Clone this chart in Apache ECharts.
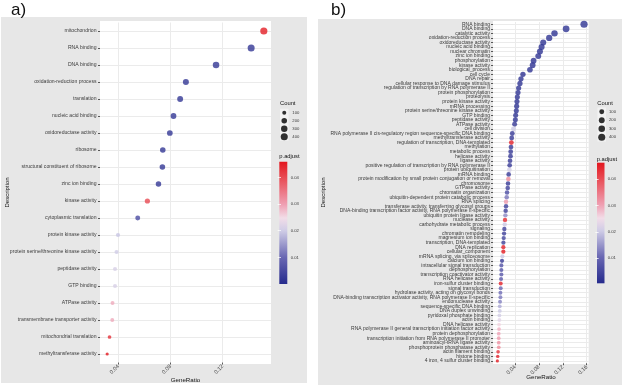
<!DOCTYPE html>
<html><head><meta charset="utf-8">
<script src="https://cdn.jsdelivr.net/npm/echarts@6/dist/echarts.min.js"></script>
<style>html,body{margin:0;padding:0;background:#fff}#c{width:624px;height:386px}</style>
</head><body><div id="c"></div>
<script>
// ---------- Panel a data ----------
const catsA = ['mitochondrion','RNA binding','DNA binding','oxidation-reduction process','translation','nucleic acid binding','oxidoreductase activity','ribosome','structural constituent of ribosome','zinc ion binding','kinase activity','cytoplasmic translation','protein kinase activity','protein serine/threonine kinase activity','peptidase activity','GTP binding','ATPase activity','transmembrane transporter activity','mitochondrial translation','methyltransferase activity'];
const ratioA = [0.1515,0.1418,0.1149,0.0918,0.0874,0.0823,0.0795,0.0741,0.0738,0.0708,0.0623,0.0549,0.0398,0.0387,0.0375,0.0375,0.0356,0.0354,0.0333,0.0315];
const countA = [416,390,316,252,240,226,218,204,203,195,171,151,109,106,103,103,98,97,92,87];
const padjA = [0.045,0.002,0.002,0.002,0.002,0.002,0.002,0.002,0.002,0.002,0.04,0.0055,0.0193,0.02,0.021,0.021,0.029,0.029,0.043,0.0459];

// ---------- Panel b data ----------
const catsB = ['RNA binding','DNA binding','catalytic activity','oxidation-reduction process','oxidoreductase activity','nucleic acid binding','nuclear chromatin','zinc ion binding','phosphorylation','kinase activity','biological_process','cell cycle','DNA repair','cellular response to DNA damage stimulus','regulation of transcription by RNA polymerase II','protein phosphorylation','proteolysis','protein kinase activity','mRNA processing','protein serine/threonine kinase activity','GTP binding','peptidase activity','ATPase activity','cell division','RNA polymerase II cis-regulatory region sequence-specific DNA binding','methyltransferase activity','regulation of transcription, DNA-templated','methylation','metabolic process','helicase activity','ligase activity','positive regulation of transcription by RNA polymerase II','protein ubiquitination','mRNA binding','protein modification by small protein conjugation or removal','chromosome','GTPase activity','chromatin organization','ubiquitin-dependent protein catabolic process','RNA splicing','transferase activity, transferring glycosyl groups','DNA-binding transcription factor activity, RNA polymerase II-specific','ubiquitin protein ligase activity','nuclease activity','carbohydrate metabolic process','signaling','chromatin remodeling','magnesium ion binding','transcription, DNA-templated','DNA replication','cellular_component','mRNA splicing, via spliceosome','calcium ion binding','intracellular signal transduction','dephosphorylation','transcription coactivator activity','RNA helicase activity','iron-sulfur cluster binding','signal transduction','hydrolase activity, acting on glycosyl bonds','DNA-binding transcription activator activity, RNA polymerase II-specific','endonuclease activity','sequence-specific DNA binding','DNA duplex unwinding','pyridoxal phosphate binding','actin binding','DNA helicase activity','RNA polymerase II general transcription initiation factor activity','protein dephosphorylation','transcription initiation from RNA polymerase II promoter','aminoacyl-tRNA ligase activity','phosphoprotein phosphatase activity','actin filament binding','histone binding','4 iron, 4 sulfur cluster binding'];
const ratioB = [0.1555,0.1255,0.1061,0.0972,0.0872,0.0845,0.0817,0.0789,0.0711,0.0695,0.065,0.0533,0.05,0.0483,0.0461,0.045,0.0439,0.0433,0.0428,0.0422,0.0411,0.0406,0.0394,0.0375,0.0355,0.0345,0.0339,0.0333,0.0328,0.0325,0.0317,0.0311,0.0306,0.0294,0.0289,0.0283,0.0278,0.0267,0.0261,0.025,0.025,0.0244,0.0239,0.0233,0.0228,0.0222,0.0217,0.0211,0.0206,0.0205,0.0205,0.0189,0.0183,0.0172,0.0172,0.0172,0.0167,0.0161,0.0161,0.0156,0.0156,0.015,0.0145,0.0145,0.0139,0.0139,0.0133,0.0133,0.0128,0.0128,0.0128,0.0128,0.0117,0.0111,0.0105];
const countB = [420,339,286,262,235,228,221,213,192,188,176,144,135,130,124,122,119,117,116,114,111,110,106,101,96,93,92,90,89,88,86,84,83,79,78,76,75,72,70,68,67,66,64,63,61,60,59,57,56,55,55,51,50,47,46,46,45,44,43,42,42,41,39,39,38,37,36,36,35,35,35,34,32,30,28];
const padjB = [0.002,0.002,0.002,0.002,0.002,0.002,0.002,0.002,0.002,0.002,0.002,0.0015,0.002,0.002,0.002,0.002,0.002,0.002,0.002,0.002,0.002,0.002,0.003,0.02,0.003,0.003,0.045,0.003,0.003,0.003,0.003,0.003,0.021,0.003,0.033,0.003,0.004,0.006,0.012,0.031,0.004,0.004,0.014,0.044,0.02,0.004,0.004,0.005,0.004,0.045,0.046,0.02,0.003,0.007,0.007,0.008,0.008,0.045,0.01,0.011,0.012,0.013,0.017,0.02,0.021,0.023,0.026,0.029,0.03,0.031,0.032,0.033,0.043,0.045,0.046];

// ---------- scales / legends ----------
const xRangeA = [0.026, 0.157];
const xRangeB = [0.0032, 0.1633];
const xTicksA = [0.04, 0.08, 0.12];
const xTicksB = [0.04, 0.08, 0.12, 0.16];
const padjRangeA = [0, 0.0459];
const padjRangeB = [0.0005, 0.0463];
const padjTicks = [0.01, 0.02, 0.03, 0.04];
const sizeBreaks = [100, 200, 300, 400];

// ---------- style mappings ----------
const FONT = 'Liberation Sans, Arial, sans-serif';
const LBL = '#3a3a3a';
const colorStops = [[0,'#262b8d'],[0.22,'#6a68b3'],[0.435,'#cfcce6'],[0.54,'#f2dde8'],[0.65,'#efa0b3'],[0.87,'#e84b53'],[1,'#e3161e']];
function hex2rgb(h){return [1,3,5].map(i=>parseInt(h.slice(i,i+2),16));}
function colorAt(t){
  t = Math.min(1, Math.max(0, t));
  for (let i = 1; i < colorStops.length; i++) {
    if (t <= colorStops[i][0]) {
      const [t0,c0] = colorStops[i-1], [t1,c1] = colorStops[i];
      const f = (t - t0) / (t1 - t0);
      const a = hex2rgb(c0), b = hex2rgb(c1);
      return 'rgb(' + a.map((v,k)=>Math.round(v + (b[k]-v)*f)).join(',') + ')';
    }
  }
  return colorStops[colorStops.length-1][1];
}
function gradient(){
  return {type:'linear', x:0, y:0, x2:0, y2:1,
    colorStops: colorStops.map(([t,c])=>({offset:1-t, color:c})).reverse()};
}
function sizeMaker(counts){
  const mn = Math.min(...counts), mx = Math.max(...counts);
  return c => 3.2 + 4 * Math.sqrt(Math.max(0, (c - mn) / (mx - mn)));
}
const sizeA = sizeMaker(countA), sizeB = sizeMaker(countB);
function pts(cats, ratio, count, padj, sizeFn, range){
  return cats.map((c,i)=>({
    value:[ratio[i], c],
    symbolSize: sizeFn(count[i]),
    itemStyle:{color: colorAt((padj[i]-range[0])/(range[1]-range[0]))}
  }));
}

const chart = echarts.init(document.getElementById('c'), null, {renderer:'canvas'});

function mainX(grid, range, ticks){
  return {gridIndex:grid, type:'value', min:range[0], max:range[1],
    axisLine:{show:false},
    axisTick:{show:true, customValues:ticks, length:2, lineStyle:{color:'#333', width:0.8}},
    axisLabel:{customValues:ticks, rotate:45, fontSize:5.5, margin:3, color:LBL, fontFamily:FONT, formatter:v=>v.toFixed(2)},
    splitLine:{show:true, lineStyle:{color:'#ebebeb', width:1}}};
}
function mainY(grid, cats, fs, margin){
  return {gridIndex:grid, type:'category', data:cats, inverse:true,
    axisLine:{show:false},
    axisTick:{show:true, alignWithLabel:true, interval:0, length:2, lineStyle:{color:'#333', width:0.8}},
    axisLabel:{interval:0, fontSize:fs, margin:margin, color:LBL, fontFamily:FONT},
    splitLine:{show:true, interval:0, alignWithLabel:true, lineStyle:{color:'#ebebeb', width:1}}};
}
function barY(grid, range, pos, labels, margin){
  return {gridIndex:grid, type:'value', min:range[0], max:range[1], position:pos,
    axisLine:{show:false}, splitLine:{show:false},
    axisTick:{show:true, inside:true, customValues:padjTicks, length:1.6, lineStyle:{color:'#fff', width:0.8}},
    axisLabel:{show:labels, customValues:padjTicks, fontSize:4.2, margin:margin, color:LBL, fontFamily:FONT}};
}
function keyY(grid, margin){
  return {gridIndex:grid, type:'category', data:sizeBreaks.map(String), inverse:true, position:'right',
    axisLine:{show:false}, axisTick:{show:false}, splitLine:{show:false},
    axisLabel:{interval:0, fontSize:4.2, margin:margin, color:LBL, fontFamily:FONT}};
}
function hiddenX(grid, mn, mx){ return {gridIndex:grid, type:'value', min:mn, max:mx, show:false}; }

function txt(x, y, text, fs, align, rot){
  return {type:'text', x:x, y:y, z:10, rotation:rot||0,
    style:{text:text, fontSize:fs, fontFamily:FONT, fill:'#111', align:align||'left', verticalAlign:'middle'}};
}
function rect(x,y,w,h,fill){ return {type:'rect', z:-10, shape:{x:x,y:y,width:w,height:h}, style:{fill:fill}}; }

const option = {
  backgroundColor:'#ffffff',
  animation:false,
  grid:[
    {left:100, top:22.5, width:171, height:340, outerBoundsMode:'none'},
    {left:493, top:22.0, width:95.7, height:341.2, outerBoundsMode:'none'},
    {left:279.3, top:161.7, width:8, height:122.3, show:true, borderWidth:0, backgroundColor:gradient(), outerBoundsMode:'none'},
    {left:597, top:162.7, width:7.5, height:120.6, show:true, borderWidth:0, backgroundColor:gradient(), outerBoundsMode:'none'},
    {left:280, top:108.7, width:8.5, height:32, show:true, borderWidth:0, backgroundColor:'#f2f2f2', outerBoundsMode:'none'},
    {left:597.5, top:107.5, width:8.5, height:34, show:true, borderWidth:0, backgroundColor:'#f2f2f2', outerBoundsMode:'none'}
  ],
  xAxis:[
    mainX(0, xRangeA, xTicksA),
    mainX(1, xRangeB, xTicksB),
    hiddenX(2, 0, 1), hiddenX(3, 0, 1), hiddenX(4, -1, 1), hiddenX(5, -1, 1)
  ],
  yAxis:[
    mainY(0, catsA, 5.1, 3.5),
    mainY(1, catsB, 5, 3),
    barY(2, padjRangeA, 'right', true, 3.4),
    barY(2, padjRangeA, 'left', false, 2),
    barY(3, padjRangeB, 'right', true, 3.2),
    barY(3, padjRangeB, 'left', false, 2),
    keyY(4, 3.8),
    keyY(5, 3)
  ],
  series:[
    {type:'scatter', xAxisIndex:0, yAxisIndex:0, data:pts(catsA, ratioA, countA, padjA, sizeA, padjRangeA), z:3},
    {type:'scatter', xAxisIndex:1, yAxisIndex:1, data:pts(catsB, ratioB, countB, padjB, sizeB, padjRangeB), z:3},
    {type:'scatter', xAxisIndex:4, yAxisIndex:6, itemStyle:{color:'#000'},
      data:sizeBreaks.map(b=>({value:[0, String(b)], symbolSize:sizeA(b)}))},
    {type:'scatter', xAxisIndex:5, yAxisIndex:7, itemStyle:{color:'#000'},
      data:sizeBreaks.map(b=>({value:[0, String(b)], symbolSize:sizeB(b)}))}
  ],
  graphic:{elements:[
    rect(1, 17, 306, 366, '#e7e7e7'),
    rect(318, 19, 304, 366, '#e7e7e7'),
    rect(100, 21, 171, 343, '#ffffff'),
    rect(493, 21, 95.7, 343, '#ffffff'),
    txt(11, 10, 'a)', 17),
    txt(331, 10, 'b)', 17),
    txt(7, 192.5, 'Description', 6, 'center', Math.PI/2),
    txt(323, 192.5, 'Description', 6, 'center', Math.PI/2),
    txt(185.5, 380, 'GeneRatio', 6.2, 'center'),
    txt(541, 377.7, 'GeneRatio', 6.2, 'center'),
    txt(280, 103.3, 'Count', 5.8),
    txt(597.3, 103.7, 'Count', 5.8),
    txt(279.3, 156, 'p.adjust', 5.8),
    txt(596.7, 159, 'p.adjust', 5.8)
  ]}
};
chart.setOption(option);
</script>
</body></html>
